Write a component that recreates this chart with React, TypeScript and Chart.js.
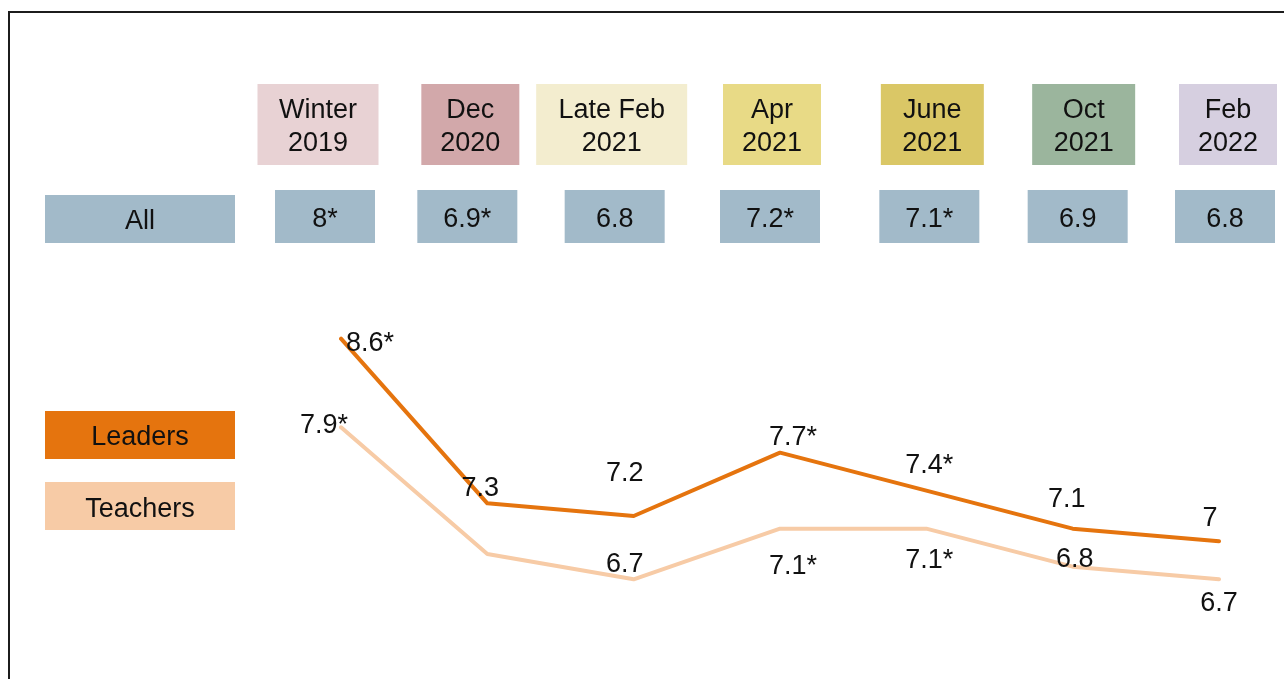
import React, { useEffect, useRef } from "react";
import { Chart, registerables } from "chart.js";

Chart.register(...registerables);

// ---- data ----
const categories = ["Winter 2019", "Dec 2020", "Late Feb 2021", "Apr 2021", "June 2021", "Oct 2021", "Feb 2022"];
const headerColors = ["#e8d2d4", "#d2a8aa", "#f3edcf", "#e8da86", "#dac766", "#9bb59d", "#d6cfe0"];
const allValues = [8, 6.9, 6.8, 7.2, 7.1, 6.9, 6.8];
const allSig = [true, true, false, true, true, false, false];
const leaders = [8.6, 7.3, 7.2, 7.7, 7.4, 7.1, 7.0];
const leadersSig = [true, false, false, true, true, false, false];
const teachers = [7.9, 6.9, 6.7, 7.1, 7.1, 6.8, 6.7];
const teachersSig = [true, false, false, true, true, false, false];
const teachersLabelShown = [true, false, true, true, true, true, true];

// ---- layout / style ----
const LEADERS_COLOR = "#e5740e";
const TEACHERS_COLOR = "#f7cba6";
const ALL_COLOR = "#a2bac9";
const FONT = '27px "Liberation Sans", Arial, sans-serif';
const CAP_HALF = 9.7;
const headerDx = [-23, -17, -22, -8, 6, 11, 9];
const headerW = [121, 98, 151, 98, 103, 103, 98];
const allDx = [-16, -20, -19, -10, 3, 5, 6];
const leadersLabelOffset = [[29, 3], [-7, -17], [-9, -45], [13, -17], [3, -27], [-6, -31], [-9, -25]];
const teachersLabelOffset = [[-17, -4], [0, 0], [-9, -17], [13, 36], [3, 30], [2, -9], [0, 22]];

const fmt = (v: number, sig: boolean) => String(v) + (sig ? "*" : "");

function splitHeader(s: string): string[] {
  const i = s.lastIndexOf(" ");
  return [s.slice(0, i), s.slice(i + 1)];
}

const overlayPlugin = {
  id: "overlay",
  afterDatasetsDraw(chart: any) {
    const ctx: CanvasRenderingContext2D = chart.ctx;
    const xs = chart.scales.x;
    const ys = chart.scales.y;
    ctx.save();
    // frame
    ctx.strokeStyle = "#1c1c1c";
    ctx.lineWidth = 2;
    ctx.beginPath();
    ctx.moveTo(9, chart.height + 2);
    ctx.lineTo(9, 12);
    ctx.lineTo(chart.width + 2, 12);
    ctx.stroke();

    ctx.font = FONT;
    ctx.textAlign = "center";
    ctx.textBaseline = "alphabetic";

    const box = (x: number, y: number, w: number, h: number, fill: string, lines: string[], baselines: number[]) => {
      ctx.fillStyle = fill;
      ctx.fillRect(x, y, w, h);
      ctx.fillStyle = "#111";
      lines.forEach((t, i) => ctx.fillText(t, x + w / 2, baselines[i]));
    };

    // header row + All row
    categories.forEach((c, i) => {
      const px = xs.getPixelForValue(i);
      const w = headerW[i];
      const cx = px + headerDx[i];
      box(cx - w / 2, 84, w, 81, headerColors[i], splitHeader(c), [118, 151]);
      const ax = px + allDx[i];
      box(ax - 50, 190, 100, 53, ALL_COLOR, [fmt(allValues[i], allSig[i])], [217 + CAP_HALF]);
    });
    box(45, 195, 190, 48, ALL_COLOR, ["All"], [219 + CAP_HALF]);

    // legend
    box(45, 411, 190, 48, LEADERS_COLOR, ["Leaders"], [435 + CAP_HALF]);
    box(45, 482, 190, 48, TEACHERS_COLOR, ["Teachers"], [507 + CAP_HALF]);

    // data labels
    ctx.fillStyle = "#111";
    leaders.forEach((v, i) => {
      const px = xs.getPixelForValue(i);
      const py = ys.getPixelForValue(v);
      const [dx, dy] = leadersLabelOffset[i];
      ctx.fillText(fmt(v, leadersSig[i]), px + dx, py + dy + CAP_HALF);
    });
    teachers.forEach((v, i) => {
      if (!teachersLabelShown[i]) return;
      const px = xs.getPixelForValue(i);
      const py = ys.getPixelForValue(v);
      const [dx, dy] = teachersLabelOffset[i];
      ctx.fillText(fmt(v, teachersSig[i]), px + dx, py + dy + CAP_HALF);
    });
    ctx.restore();
  },
};

export default function App() {
  const ref = useRef<HTMLCanvasElement | null>(null);
  useEffect(() => {
    if (!ref.current) return;
    const chart = new Chart(ref.current, {
      type: "line",
      data: {
        labels: categories,
        datasets: [
          {
            label: "Teachers",
            data: teachers,
            borderColor: TEACHERS_COLOR,
            backgroundColor: TEACHERS_COLOR,
            borderWidth: 4,
            pointRadius: 0,
            tension: 0,
            borderCapStyle: "round",
            borderJoinStyle: "round",
          },
          {
            label: "Leaders",
            data: leaders,
            borderColor: LEADERS_COLOR,
            backgroundColor: LEADERS_COLOR,
            borderWidth: 4,
            pointRadius: 0,
            tension: 0,
            borderCapStyle: "round",
            borderJoinStyle: "round",
          },
        ],
      },
      options: {
        responsive: false,
        animation: false,
        layout: { padding: { left: 341, right: 65, top: 288, bottom: 11 } },
        plugins: { legend: { display: false }, tooltip: { enabled: false } },
        scales: {
          x: { display: false, offset: false },
          y: { display: false, min: 6, max: 9 },
        },
      },
      plugins: [overlayPlugin],
    });
    return () => chart.destroy();
  }, []);
  return (
    <div style={{ position: "absolute", left: 0, top: 0, width: 1284, height: 679, background: "#fff" }}>
      <canvas ref={ref} width={1284} height={679} style={{ display: "block" }} />
    </div>
  );
}
